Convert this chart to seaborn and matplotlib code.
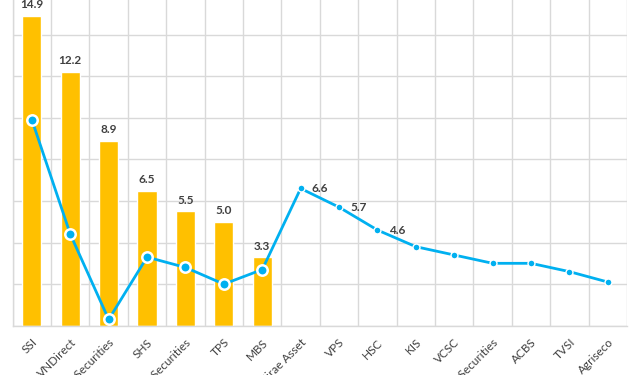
import numpy as np
import pandas as pd
import matplotlib
matplotlib.use('Agg')
import matplotlib.pyplot as plt
import seaborn as sns

# Chart data
brokers = ['SSI', 'VNDirect', 'KB Securities', 'SHS', 'Bao Viet Securities', 'TPS', 'MBS',
           'Mirae Asset', 'VPS', 'HSC', 'KIS', 'VCSC', 'Yuanta Securities', 'ACBS', 'TVSI', 'Agriseco']
bar_values = [14.9, 12.2, 8.9, 6.5, 5.5, 5.0, 3.3,
              np.nan, np.nan, np.nan, np.nan, np.nan, np.nan, np.nan, np.nan, np.nan]
line_values = [9.9, 4.4, 0.3, 3.3, 2.8, 2.0, 2.7,
               6.6, 5.7, 4.6, 3.8, 3.4, 3.0, 3.0, 2.6, 2.1]
line_labelled = ['Mirae Asset', 'VPS', 'HSC']
n_big_markers = 7

df = pd.DataFrame({'broker': brokers, 'bar': bar_values, 'line': line_values})

sns.set_style('white')
plt.rcParams['font.family'] = ['Lato', 'DejaVu Sans']

bar_color = '#FFC000'
line_color = '#00B0F0'
text_color = '#404040'
grid_color = '#D9D9D9'

fig = plt.figure(figsize=(6.4, 3.75), dpi=100)
ax = fig.add_axes([12.7 / 640, 49.3 / 375, 614.3 / 640, 332.7 / 375])

sns.barplot(data=df, x='broker', y='bar', color=bar_color, width=0.5,
            saturation=1, errorbar=None, ax=ax, zorder=2)

pos = np.arange(len(brokers))
ax.plot(pos, df['line'], color=line_color, lw=2.0, zorder=3)
big = pos < n_big_markers
ax.plot(pos[big], df['line'][big], 'o', ms=7.5, mfc=line_color, mec='white', mew=1.8, zorder=4)
ax.plot(pos[~big], df['line'][~big], 'o', ms=5, mfc=line_color, mec='white', mew=1.0, zorder=4)

# data labels
for i, v in enumerate(df['bar']):
    if not np.isnan(v):
        ax.annotate(f'{v:.1f}', (i, v), xytext=(0, 4), textcoords='offset points',
                    ha='center', va='bottom', fontsize=8.5, color=text_color, fontweight='bold')
for i, (b, v) in enumerate(zip(df['broker'], df['line'])):
    if b in line_labelled:
        ax.annotate(f'{v:.1f}', (i, v), xytext=(8, 0), textcoords='offset points',
                    ha='left', va='center', fontsize=8.5, color=text_color, fontweight='bold')

ax.set_xlim(-0.5, len(brokers) - 0.5)
ax.set_ylim(0, 16)
ax.set_yticks(np.arange(0, 17, 2))
ax.set_yticklabels([])
ax.set_xticks(np.arange(-0.5, len(brokers), 1), minor=True)
ax.grid(True, which='minor', axis='x', color=grid_color, lw=1, zorder=0)
ax.grid(True, which='major', axis='y', color=grid_color, lw=1, zorder=0)
ax.tick_params(axis='x', which='both', length=0, pad=8)
ax.tick_params(axis='y', length=0)
ax.set_xticks(pos)
ax.set_xticklabels(brokers, rotation=45, ha='right', rotation_mode='anchor',
                   fontsize=8.5, color=text_color)
ax.set_xlabel('')
ax.set_ylabel('')
for s in ['top', 'right']:
    ax.spines[s].set_visible(False)
for s in ['left', 'bottom']:
    ax.spines[s].set_color(grid_color)
    ax.spines[s].set_linewidth(1)

fig.savefig('out.png', dpi=100)
